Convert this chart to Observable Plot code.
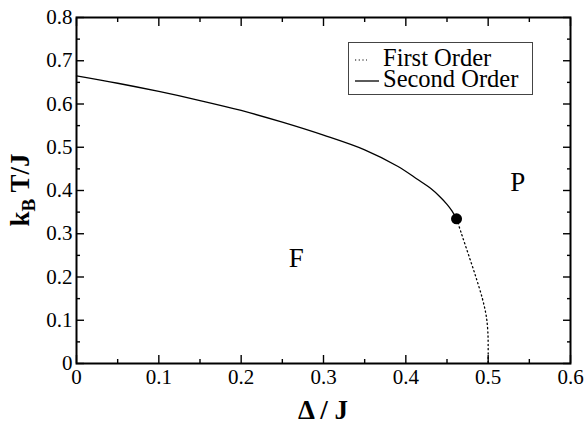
<!DOCTYPE html>
<html>
<head>
<meta charset="utf-8">
<script src="https://cdn.jsdelivr.net/npm/d3@7"></script>
<script src="https://cdn.jsdelivr.net/npm/@observablehq/plot@0.6"></script>
<style>
  html, body { margin: 0; padding: 0; background: white; }
  #wrap { position: relative; width: 584px; height: 425px; }
  #wrap svg text { font-family: 'Liberation Serif', 'Times New Roman', serif; }
  #legend { position: absolute; left: 348px; top: 42px; width: 183px; height: 51px;
    border: 1px solid #444; background: white; }
</style>
</head>
<body>
<div id="wrap"></div>
<script>
// ---- data ----
const secondOrderDelta = [0, 0.05, 0.1, 0.15, 0.2, 0.25, 0.3, 0.35, 0.39, 0.414, 0.43, 0.442, 0.45, 0.456, 0.4616];
const secondOrderT     = [0.665, 0.648, 0.629, 0.608, 0.585, 0.558, 0.528, 0.494, 0.456, 0.426, 0.405, 0.3845, 0.368, 0.353, 0.3345];
const firstOrderDelta  = [0.4616, 0.4676, 0.4764, 0.4851, 0.4930, 0.4967, 0.4984, 0.4997, 0.5, 0.5];
const firstOrderT      = [0.3345, 0.3, 0.25, 0.2, 0.15, 0.12, 0.1, 0.07, 0.04, 0];
const criticalPoint = [{delta: 0.4616, T: 0.3345}];
const phaseLabels = [{delta: 0.267, T: 0.243, text: "F"}, {delta: 0.536, T: 0.419, text: "P"}];
const xMajor = [0, 0.1, 0.2, 0.3, 0.4, 0.5, 0.6];
const xMinor = [0.05, 0.15, 0.25, 0.35, 0.45, 0.55];
const yMajor = [0, 0.1, 0.2, 0.3, 0.4, 0.5, 0.6, 0.7, 0.8];
const yMinor = [0.05, 0.15, 0.25, 0.35, 0.45, 0.55, 0.65, 0.75];
const xTickLabels = ["0", "0.1", "0.2", "0.3", "0.4", "0.5", "0.6"];
const yTickLabels = ["0", "0.1", "0.2", "0.3", "0.4", "0.5", "0.6", "0.7", "0.8"];
const legendLabels = ["First Order", "Second Order"];

const second = secondOrderDelta.map((d, i) => ({delta: d, T: secondOrderT[i]}));
const first = firstOrderDelta.map((d, i) => ({delta: d, T: firstOrderT[i]}));
const xFmt = d => xTickLabels[xMajor.indexOf(d)];
const yFmt = d => yTickLabels[yMajor.indexOf(d)];
const SERIF = "'Liberation Serif', 'Times New Roman', serif";

const tickOpts = {fill: "none", label: null, strokeWidth: 1.4};
const plot = Plot.plot({
  width: 584, height: 425,
  marginLeft: 76, marginRight: 14, marginTop: 17, marginBottom: 62,
  x: {domain: [0, 0.6]},
  y: {domain: [0, 0.8]},
  style: {fontFamily: SERIF, fontSize: "21px", color: "black", background: "white"},
  marks: [
    Plot.axisX(xMajor, {...tickOpts, anchor: "bottom", tickSize: -8}),
    Plot.axisX(xMinor, {...tickOpts, anchor: "bottom", tickSize: -4}),
    Plot.axisX(xMajor, {...tickOpts, anchor: "top", tickSize: -8}),
    Plot.axisX(xMinor, {...tickOpts, anchor: "top", tickSize: -4}),
    Plot.axisY(yMajor, {...tickOpts, anchor: "left", tickSize: -8}),
    Plot.axisY(yMinor, {...tickOpts, anchor: "left", tickSize: -4}),
    Plot.axisY(yMajor, {...tickOpts, anchor: "right", tickSize: -8}),
    Plot.axisY(yMinor, {...tickOpts, anchor: "right", tickSize: -4}),
    Plot.axisX(xMajor, {anchor: "bottom", tickSize: 0, tickPadding: 6, tickFormat: xFmt, label: null, fontSize: 21, fontFamily: SERIF}),
    Plot.axisY(yMajor, {anchor: "left", tickSize: 0, tickPadding: 4, tickFormat: yFmt, label: null, fontSize: 21, fontFamily: SERIF}),
    Plot.frame({stroke: "black", strokeWidth: 2}),
    Plot.line(second, {x: "delta", y: "T", stroke: "black", strokeWidth: 1.3, curve: "catmull-rom"}),
    Plot.line(first, {x: "delta", y: "T", stroke: "black", strokeWidth: 1.3, strokeDasharray: "1.2,3", curve: "catmull-rom"}),
    Plot.dot(criticalPoint, {x: "delta", y: "T", r: 5.5, fill: "black", stroke: null}),
    Plot.text(phaseLabels, {x: "delta", y: "T", text: "text", fontSize: 27, fill: "black", fontFamily: SERIF})
  ]
});
const wrap = document.getElementById("wrap");
wrap.appendChild(plot);

// axis titles (with subscript)
const svg = d3.select(plot);
svg.append("text")
  .attr("x", 323).attr("y", 419).attr("text-anchor", "middle")
  .style("font-family", SERIF).attr("font-size", 27).attr("font-weight", "bold")
  .attr("fill", "black").text("Δ / J");
const yt = svg.append("text")
  .attr("transform", "translate(29,190) rotate(-90)").attr("text-anchor", "middle")
  .style("font-family", SERIF).attr("font-size", 27).attr("font-weight", "bold")
  .attr("fill", "black");
yt.append("tspan").text("k");
yt.append("tspan").attr("font-size", 19).attr("dy", 6).text("B");
yt.append("tspan").attr("dy", -6).text(" T/J");

// legend
const leg = document.createElement("div");
leg.id = "legend";
leg.innerHTML = `
<svg width="183" height="51" style="position:absolute;left:0;top:0">
  <line x1="6" x2="18" y1="17" y2="17" stroke="black" stroke-width="1.2" stroke-dasharray="1.2,2.5"/>
  <line x1="6" x2="30" y1="38" y2="38" stroke="black" stroke-width="1.3"/>
  <text x="34" y="23" font-size="24.5" fill="black">${legendLabels[0]}</text>
  <text x="34" y="44" font-size="24.5" fill="black">${legendLabels[1]}</text>
</svg>`;
wrap.appendChild(leg);
</script>
</body>
</html>
